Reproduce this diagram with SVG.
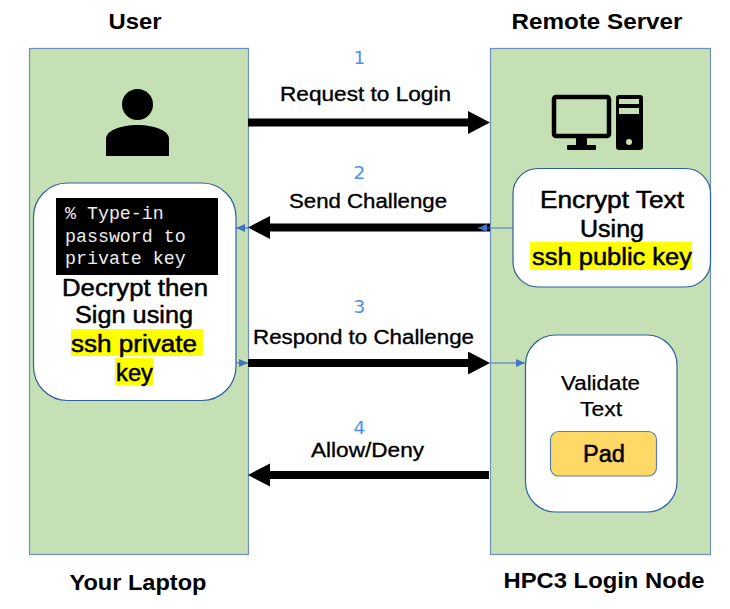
<svg xmlns="http://www.w3.org/2000/svg" width="730" height="609" viewBox="0 0 730 609">
<style>
text{font-family:"Liberation Sans",Arial,sans-serif;fill:#000;text-anchor:middle}
.panel{fill:#c5e0b4;stroke:#6f8fbf;stroke-width:1.2}
.card{fill:#fff;stroke:#2f5f9f;stroke-width:1.2}
.hd{font-size:22px;font-weight:bold}
.cl{font-size:20px;stroke:#000;stroke-width:.35}
.m{font-size:23px;stroke:#000;stroke-width:.5}
.s{font-size:20px;stroke:#000;stroke-width:.25}
.n{font-size:18.500px;fill:#4a8ff5;font-family:"DejaVu Sans",sans-serif}
.hl{fill:#ff0}
.big{fill:none;stroke:#000;stroke-width:8}
.thin{fill:none;stroke:#4472c4;stroke-width:1.2}
.con{font-family:"Liberation Mono",monospace;font-size:18.300px;fill:#eee;text-anchor:start}
</style>
<defs>
<marker id="bh" markerUnits="userSpaceOnUse" markerWidth="24" markerHeight="24" refX="10" refY="11.500" orient="auto"><path d="M0 0L22 11.500L0 23Z" fill="#000"/></marker>
<marker id="th" markerUnits="userSpaceOnUse" markerWidth="11" markerHeight="9" refX="9" refY="4" orient="auto"><path d="M0 0L9 4L0 8Z" fill="#4472c4"/></marker>
</defs>
<g id="user-panel"><rect class="panel" x="29.500" y="48.500" width="219" height="506"/></g>
<g id="server-panel"><rect class="panel" x="490.500" y="48.500" width="220" height="506"/></g>
<g id="titles">
<text class="hd" x="135" y="29" textLength="53" lengthAdjust="spacingAndGlyphs">User</text>
<text class="hd" x="597" y="29" textLength="171" lengthAdjust="spacingAndGlyphs">Remote Server</text>
<text class="hd" x="138" y="590" textLength="137" lengthAdjust="spacingAndGlyphs">Your Laptop</text>
<text class="hd" x="604" y="588" textLength="201" lengthAdjust="spacingAndGlyphs">HPC3 Login Node</text>
</g>
<g id="user-icon">
<circle cx="137.500" cy="104.500" r="15.500" fill="#000"/>
<path d="M106 156V138C107 130 122 125 137.500 125S168 130 169 138V156Z" fill="#000"/>
</g>
<g id="computer-icon">
<rect x="554" y="97" width="55" height="39" rx="2" fill="none" stroke="#000" stroke-width="4.500"/>
<rect x="576" y="138" width="11" height="9" fill="#000"/>
<rect x="567" y="145" width="29" height="5" rx="1" fill="#000"/>
<rect x="616" y="95" width="27" height="55" rx="3" fill="#000"/>
<rect x="619" y="99" width="20" height="5" fill="#c5e0b4"/>
<rect x="619" y="108" width="20" height="6" fill="#c5e0b4"/>
<circle cx="629" cy="142" r="3" fill="#c5e0b4"/>
</g>
<g id="decrypt-node">
<rect class="card" x="33.500" y="183" width="202.500" height="217.500" rx="34"/>
<rect x="56" y="198" width="162" height="77" fill="#000"/>
<text class="con" x="65" y="219">% Type-in</text>
<text class="con" x="65" y="242">password to</text>
<text class="con" x="65" y="264">private key</text>
<rect class="hl" x="71" y="329" width="132" height="27"/>
<rect class="hl" x="115" y="358" width="38" height="27"/>
<text class="m" x="135" y="296" textLength="146" lengthAdjust="spacingAndGlyphs">Decrypt then</text>
<text class="m" x="134" y="323" textLength="118" lengthAdjust="spacingAndGlyphs">Sign using</text>
<text class="m" x="134" y="352" textLength="126" lengthAdjust="spacingAndGlyphs">ssh private</text>
<text class="m" x="134.500" y="381" textLength="37" lengthAdjust="spacingAndGlyphs">key</text>
</g>
<g id="encrypt-node">
<rect class="card" x="513" y="168.500" width="197.500" height="118.500" rx="25"/>
<rect class="hl" x="530" y="242" width="162" height="28"/>
<text class="m" x="612" y="208" textLength="144" lengthAdjust="spacingAndGlyphs">Encrypt Text</text>
<text class="m" x="612" y="236.500" textLength="64" lengthAdjust="spacingAndGlyphs">Using</text>
<text class="m" x="612" y="265" textLength="160" lengthAdjust="spacingAndGlyphs">ssh public key</text>
</g>
<g id="validate-node">
<rect class="card" x="525.500" y="335" width="151.500" height="177" rx="30"/>
<text class="s" x="600.500" y="390" textLength="79" lengthAdjust="spacingAndGlyphs">Validate</text>
<text class="s" x="601" y="416" textLength="42" lengthAdjust="spacingAndGlyphs">Text</text>
</g>
<g id="pad-node">
<rect x="550.500" y="431.500" width="106" height="44.500" rx="8" fill="#ffd966" stroke="#5b7fa8" stroke-width="1.200"/>
<text class="m" x="604" y="462" textLength="42" lengthAdjust="spacingAndGlyphs">Pad</text>
</g>
<g id="connectors">
<path class="big" d="M248 122.500H478" marker-end="url(#bh)"/>
<path class="big" d="M490 227.500H260" marker-end="url(#bh)"/>
<path class="big" d="M248 363H478" marker-end="url(#bh)"/>
<path class="big" d="M489 475H260" marker-end="url(#bh)"/>
<path class="thin" d="M513 228H478" marker-end="url(#th)"/>
<path class="thin" d="M248 228H236" marker-end="url(#th)"/>
<path class="thin" d="M236 363H248" marker-end="url(#th)"/>
<path class="thin" d="M490 363H525" marker-end="url(#th)"/>
</g>
<g id="labels">
<text class="n" x="359.500" y="64">1</text>
<text class="n" x="359.500" y="179">2</text>
<text class="n" x="359.500" y="313">3</text>
<text class="n" x="359.500" y="434">4</text>
<text class="cl" x="365.500" y="101" textLength="171" lengthAdjust="spacingAndGlyphs">Request to Login</text>
<text class="cl" x="368" y="208" textLength="158" lengthAdjust="spacingAndGlyphs">Send Challenge</text>
<text class="cl" x="363.500" y="344" textLength="221" lengthAdjust="spacingAndGlyphs">Respond to Challenge</text>
<text class="cl" x="367.500" y="457" textLength="113" lengthAdjust="spacingAndGlyphs">Allow/Deny</text>
</g>
</svg>
